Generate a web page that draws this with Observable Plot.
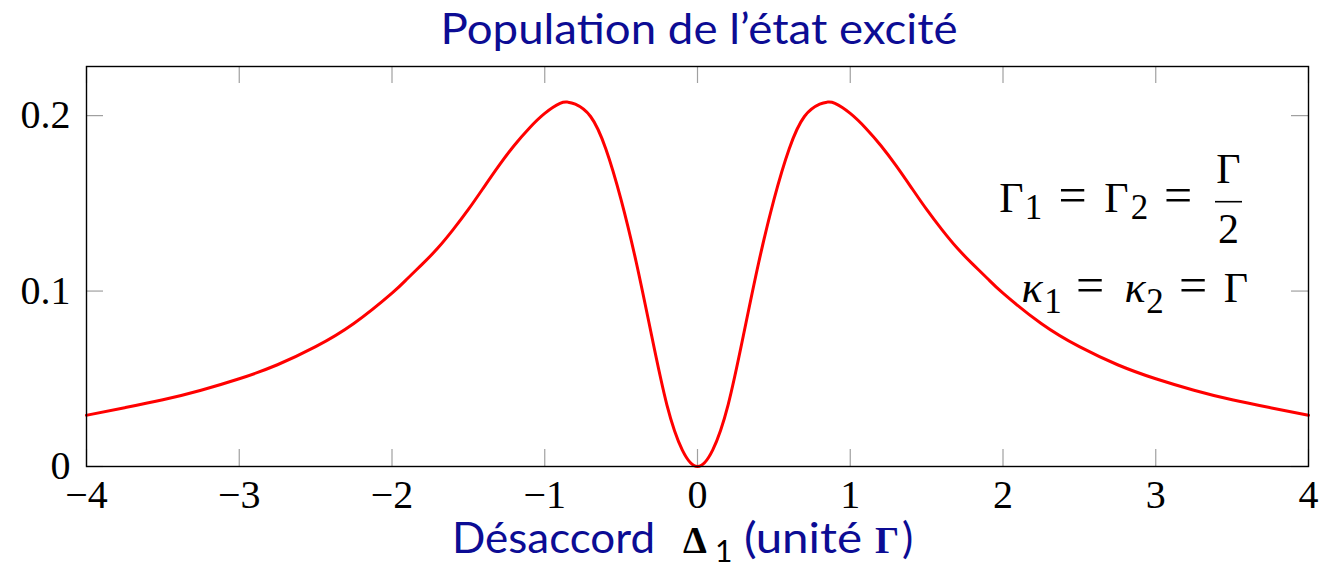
<!DOCTYPE html>
<html>
<head>
<meta charset="utf-8">
<script src="https://cdn.jsdelivr.net/npm/d3@7"></script>
<script src="https://cdn.jsdelivr.net/npm/@observablehq/plot@0.6"></script>
<style>
  body { margin: 0; background: #fff; }
  #wrap { width: 1337px; height: 569px; overflow: hidden; background: #fff; }
  #wrap svg { display: block; }
</style>
</head>
<body>
<div id="wrap"></div>
<script>
// Detuning Δ1 (in units of Γ) and excited-state population
const detuning = [
  -4, -3.75, -3.5, -3.25, -3, -2.75, -2.5, -2.25, -2, -1.9, -1.8, -1.7, -1.6, -1.5,
  -1.4, -1.3, -1.2, -1.1, -1, -0.9, -0.85, -0.8, -0.7, -0.6, -0.5, -0.4, -0.3, -0.2, -0.1,
  0,
  0.1, 0.2, 0.3, 0.4, 0.5, 0.6, 0.7, 0.8, 0.85, 0.9, 1, 1.1, 1.2, 1.3, 1.4, 1.5, 1.6,
  1.7, 1.8, 1.9, 2, 2.25, 2.5, 2.75, 3, 3.25, 3.5, 3.75, 4
];
const population = [
  0.0292, 0.0335, 0.038, 0.0435, 0.050, 0.058, 0.0683, 0.0815, 0.0988, 0.107, 0.1155, 0.1245, 0.135, 0.1465,
  0.159, 0.1715, 0.183, 0.193, 0.2013, 0.207, 0.2077, 0.2065, 0.1995, 0.181, 0.152, 0.116, 0.0745, 0.035, 0.0095,
  0,
  0.0095, 0.035, 0.0745, 0.116, 0.152, 0.181, 0.1995, 0.2065, 0.2077, 0.207, 0.2013, 0.193, 0.183, 0.1715, 0.159, 0.1465, 0.135,
  0.1245, 0.1155, 0.107, 0.0988, 0.0815, 0.0683, 0.058, 0.050, 0.0435, 0.038, 0.0335, 0.0292
];
const xTicks = [-4, -3, -2, -1, 0, 1, 2, 3, 4];
const yTicks = [0, 0.1, 0.2];

const titleText = "Population de l\u2019état excité";
const navy = "#0c0c94";
const sansFont = "Lato, 'Open Sans', sans-serif";
const serifFont = "'Liberation Serif', 'DejaVu Serif', serif";

const rows = detuning.map((d, i) => ({d, p: population[i]}));

const W = 1337, H = 509;
const mL = 86, mR = 29, mT = 6, mB = 103;
const innerW = W - mL - mR, innerH = H - mT - mB;
const tickLen = 17;

const wrap = document.getElementById("wrap");

// Title above the plot
const titleSvg = d3.create("svg").attr("width", W).attr("height", 60);
titleSvg.append("text")
  .attr("x", 699).attr("y", 44)
  .attr("text-anchor", "middle")
  .attr("font-family", sansFont)
  .attr("font-size", 42)
  .attr("fill", navy)
  .attr("textLength", 517)
  .attr("lengthAdjust", "spacingAndGlyphs")
  .text(titleText);
wrap.appendChild(titleSvg.node());

const minus = d => d < 0 ? "\u2212" + Math.abs(d) : String(d);

const chart = Plot.plot({
  width: W,
  height: H,
  marginLeft: mL, marginRight: mR, marginTop: mT, marginBottom: mB,
  x: {domain: [-4, 4], label: null},
  y: {domain: [0, 0.228], label: null},
  style: {fontFamily: serifFont, fontSize: "40px", color: "#000", background: "#fff", overflow: "visible"},
  marks: [
    // inward grey tick marks on all four sides
    Plot.ruleX(xTicks, {stroke: "#a0a0a0", strokeWidth: 1.2, insetTop: innerH - tickLen}),
    Plot.ruleX(xTicks, {stroke: "#a0a0a0", strokeWidth: 1.2, insetBottom: innerH - tickLen}),
    Plot.ruleY(yTicks, {stroke: "#a0a0a0", strokeWidth: 1.2, insetRight: innerW - tickLen}),
    Plot.ruleY(yTicks, {stroke: "#a0a0a0", strokeWidth: 1.2, insetLeft: innerW - tickLen}),
    Plot.lineY(rows, {x: "d", y: "p", stroke: "#ff0000", strokeWidth: 3, curve: "natural"}),
    Plot.frame({stroke: "#000", strokeWidth: 1.4}),
    Plot.axisX(xTicks, {tickSize: 0, tickPadding: 13, tickFormat: minus, fontSize: 40, fontFamily: serifFont}),
    Plot.axisY(yTicks, {tickSize: 0, tickPadding: 16, tickFormat: d => d === 0 ? "0" : d.toFixed(1), fontSize: 40, fontFamily: serifFont})
  ]
});
wrap.appendChild(chart);

const svg = d3.select(chart);

// Parameter annotation in the upper right of the frame
const g = svg.append("g").attr("font-family", serifFont).attr("fill", "#000");
const frameRight = W - mR;
function piece(txt, cx, baseline, size, italic) {
  g.append("text").attr("x", cx).attr("y", baseline).attr("text-anchor", "middle")
    .attr("font-size", size).attr("font-style", italic ? "italic" : null).text(txt);
}
const L1 = mT + 146, L2 = mT + 236;
piece("Γ", frameRight - 296.5, L1, 42);
piece("1", frameRight - 274.5, L1 + 7, 35);
piece("=", frameRight - 235.5, L1, 50);
piece("Γ", frameRight - 191.5, L1, 42);
piece("2", frameRight - 168.5, L1 + 7, 35);
piece("=", frameRight - 130, L1, 50);
piece("Γ", frameRight - 79.5, L1 - 29, 42);
g.append("line").attr("x1", frameRight - 93).attr("x2", frameRight - 66)
  .attr("y1", L1 - 10.3).attr("y2", L1 - 10.3).attr("stroke", "#000").attr("stroke-width", 1.6);
piece("2", frameRight - 79.5, L1 + 31, 42);
piece("κ", frameRight - 276, L2, 44, true);
piece("1", frameRight - 255, L2 + 11, 35);
piece("=", frameRight - 218, L2, 50);
piece("κ", frameRight - 173, L2, 44, true);
piece("2", frameRight - 153, L2 + 11, 35);
piece("=", frameRight - 115, L2, 50);
piece("Γ", frameRight - 72, L2, 42);

// x-axis title under the tick labels
const lab = svg.append("g").attr("text-anchor", "start");
const bl = H - 16;
function labPart(txt, x, y, family, size, fill, bold, len) {
  const t = lab.append("text").attr("x", x).attr("y", y).attr("text-anchor", "start")
    .attr("font-family", family).attr("font-size", size).attr("fill", fill)
    .attr("font-weight", bold ? "bold" : null).text(txt);
  if (len) t.attr("textLength", len).attr("lengthAdjust", "spacingAndGlyphs");
}
labPart("Désaccord", 452, bl, sansFont, 42, navy, false, 203);
labPart("Δ", 683, bl, serifFont, 38, "#000", true);
labPart("1", 715, bl + 9, sansFont, 30, "#000", false);
labPart("(unité", 744, bl, sansFont, 42, navy, false, 118);
labPart("Γ", 875, bl, serifFont, 38, navy, true);
labPart(")", 902, bl, sansFont, 42, navy, false);
</script>
</body>
</html>
